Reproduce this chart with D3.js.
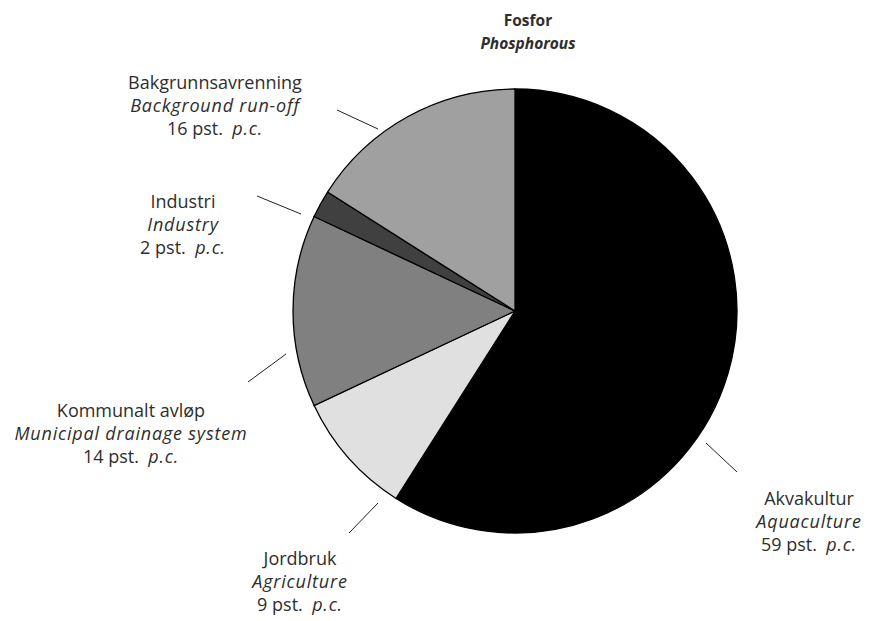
<!DOCTYPE html>
<html>
<head>
<meta charset="utf-8">
<script src="https://cdnjs.cloudflare.com/ajax/libs/d3/7.8.5/d3.min.js"></script>
<style>
  body { margin: 0; background: #fff; }
  text { font-family: "Open Sans", sans-serif; fill: #2e2e2e; }
  .it { font-style: italic; letter-spacing: 0.8px; }
</style>
</head>
<body>
<div id="chart"></div>
<script>
// data
var names = ["Akvakultur", "Jordbruk", "Kommunalt avløp", "Industri", "Bakgrunnsavrenning"];
var namesEn = ["Aquaculture", "Agriculture", "Municipal drainage system", "Industry", "Background run-off"];
var shares = [59, 9, 14, 2, 16];
var colours = ["#000000", "#e0e0e0", "#808080", "#404040", "#a0a0a0"];

var width = 869, height = 621;
var cx = 515, cy = 311, radius = 222;

// label anchor (centre of first line) and leader line, per slice
var labelPos = [[809, 505], [300, 565], [131, 417], [183, 208], [215, 89]];
var leaders = [[706, 443, 737, 472], [378, 503, 349, 533], [286, 354, 248, 382],
               [301, 214, 257, 196], [378, 129, 337, 110]];

var svg = d3.select("#chart").append("svg")
    .attr("width", width)
    .attr("height", height);

// title
svg.append("text").attr("x", 528).attr("y", 26)
    .attr("text-anchor", "middle").style("font-weight", "bold").style("font-size", "15.5px")
    .text("Fosfor");
svg.append("text").attr("x", 528).attr("y", 49)
    .attr("text-anchor", "middle").style("font-weight", "bold").style("font-style", "italic")
    .style("font-size", "15.5px")
    .text("Phosphorous");

var pie = d3.pie().sort(null).value(function(d) { return d; });
var arc = d3.arc().innerRadius(0).outerRadius(radius);

var g = svg.append("g").attr("transform", "translate(" + cx + "," + cy + ")");

g.selectAll("path")
    .data(pie(shares))
    .enter()
    .append("path")
    .attr("d", arc)
    .attr("fill", function(d, i) { return colours[i]; })
    .attr("stroke", "#000")
    .attr("stroke-width", 1.3);

// leader lines
svg.selectAll("line.leader")
    .data(leaders)
    .enter()
    .append("line")
    .attr("class", "leader")
    .attr("x1", function(d) { return d[0]; })
    .attr("y1", function(d) { return d[1]; })
    .attr("x2", function(d) { return d[2]; })
    .attr("y2", function(d) { return d[3]; })
    .attr("stroke", "#222")
    .attr("stroke-width", 1);

// labels, three lines each
var labels = svg.selectAll("g.label")
    .data(shares)
    .enter()
    .append("g")
    .attr("class", "label")
    .attr("transform", function(d, i) { return "translate(" + labelPos[i][0] + "," + labelPos[i][1] + ")"; });

labels.append("text")
    .attr("text-anchor", "middle").style("font-size", "18px")
    .text(function(d, i) { return names[i]; });
labels.append("text")
    .attr("y", 23)
    .attr("class", "it")
    .attr("text-anchor", "middle").style("font-size", "18px")
    .text(function(d, i) { return namesEn[i]; });
var pct = labels.append("text")
    .attr("y", 46)
    .attr("text-anchor", "middle").style("font-size", "18px")
    .attr("xml:space", "preserve");
pct.append("tspan").text(function(d) { return d + " pst.  "; });
pct.append("tspan").attr("class", "it").text("p.c.");
</script>
</body>
</html>
